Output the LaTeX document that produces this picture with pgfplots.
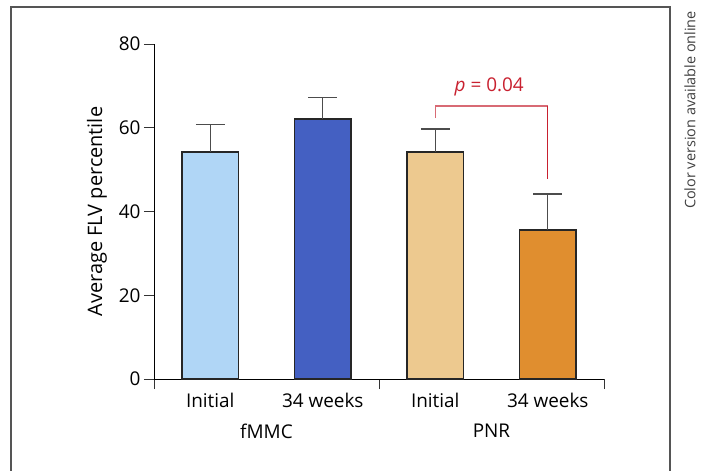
\documentclass[border=0pt]{standalone}
\usepackage{fontspec}
\setmainfont{Open Sans}
\newfontfamily\plainfont{Open Sans}
\usepackage{pgfplots}
\pgfplotsset{compat=1.18}
\definecolor{cA}{HTML}{B0D6F6}
\definecolor{cB}{HTML}{4460C2}
\definecolor{cC}{HTML}{EDC98F}
\definecolor{cD}{HTML}{E08E2F}
\definecolor{pred}{HTML}{C8202F}
\definecolor{pinkred}{HTML}{D86A74}
\definecolor{framec}{HTML}{555555}
\pgfplotsset{
  mybar/.style={ybar, bar width=0.5, bar shift=0pt, draw=black!85, line width=1.3bp,
    error bars/y dir=plus, error bars/y explicit,
    error bars/error bar style={line width=1.2bp, black!70, solid},
    error bars/error mark options={line width=1.2bp, black!70, mark size=14.5bp, rotate=90}},
}
\begin{document}
\begin{tikzpicture}
\useasboundingbox (0,0) rectangle (705bp,-471bp);
\draw[framec, line width=1.5bp] (11bp,-480bp) -- (11bp,-7bp) -- (670bp,-7bp) -- (670bp,-480bp);
\node[rotate=90, font=\plainfont\fontsize{14.5}{17}\selectfont, text=black!75] at (690bp,-110bp) {Color version available online};
\begin{axis}[
  at={(154bp,-379bp)}, anchor=south west,
  scale only axis, width=450bp, height=335bp,
  xmin=0, xmax=4, ymin=0, ymax=80,
  axis x line=bottom, axis y line=left,
  axis line style={-, line width=1bp, black},
  xtick={0,2,4}, xticklabels={},
  extra x ticks={0.5,1.5,2.5,3.5},
  extra x tick labels={Initial,34 weeks,Initial,34 weeks},
  extra x tick style={major tick length=0pt, tick label style={yshift=-11bp}},
  ytick={0,20,40,60,80},
  tick align=outside, major tick length=10bp,
  tick style={line width=1bp, black!80},
  ylabel={Average FLV percentile},
  ylabel style={font=\plainfont\fontsize{20}{24}\selectfont, at={(axis description cs:-0.127,0.5)}, anchor=center},
  tick label style={font=\fontsize{19}{23}\selectfont},
  /pgf/number format/assume math mode=true,
  clip=false,
]
\addplot[mybar, fill=cA] coordinates {(0.5,54.2) +- (0,6.5)};
\addplot[mybar, fill=cB] coordinates {(1.5,62.1) +- (0,5.2)};
\addplot[mybar, fill=cC] coordinates {(2.5,54.2) +- (0,5.5)};
\addplot[mybar, fill=cD] coordinates {(3.5,35.6) +- (0,8.6)};
\addplot[pinkred, line width=1.3bp, no markers] coordinates {(2.5,62.3) (2.5,65.2) (3.5,65.2)};
\addplot[pred, line width=1.3bp, no markers] coordinates {(3.5,65.2) (3.5,47.8)};
\node[text=pred, font=\fontsize{19}{23}\selectfont] at (axis cs:2.98,69.8) {\textit{p} = 0.04};
\node[font=\fontsize{19}{23}\selectfont] at (axis cs:1,0) [yshift=-52bp] {fMMC};
\node[font=\fontsize{19}{23}\selectfont] at (axis cs:3,0) [yshift=-52bp] {PNR};
\end{axis}
\end{tikzpicture}
\end{document}
